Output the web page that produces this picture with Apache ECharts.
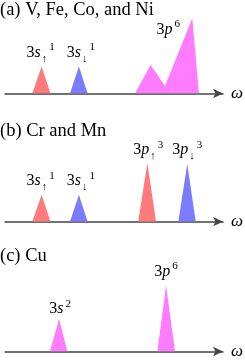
<!DOCTYPE html>
<html><head><meta charset="utf-8">
<script src="https://cdn.jsdelivr.net/npm/echarts@6/dist/echarts.min.js"></script>
<style>html,body{margin:0;padding:0;background:#fff}#c{width:245px;height:360px}</style>
</head><body><div id="c"></div>
<script>
// Panel titles
const panelTitles = ['(a) V, Fe, Co, and Ni', '(b) Cr and Mn', '(c) Cu'];
// Peaks: [omega, intensity] (arbitrary units, omega 0..100)
const a_s_up   = [[12.5, 0], [16.8, 27], [20.9, 0]];
const a_s_down = [[29.8, 0], [33.9, 27], [37.9, 0]];
const a_p      = [[59.6, 0], [66.8, 28.5], [73.4, 7.5], [85.9, 75.2], [89.0, 0]];
const b_s_up   = [[12.5, 0], [16.8, 27], [20.9, 0]];
const b_s_down = [[29.8, 0], [33.9, 27], [37.9, 0]];
const b_p_up   = [[61.1, 0], [65.3, 58.7], [69.3, 0]];
const b_p_down = [[79.5, 0], [83.6, 57.7], [87.5, 0]];
const c_s      = [[20.6, 0], [24.8, 34.3], [28.6, 0]];
const c_p      = [[69.9, 0], [73.9, 69], [78.0, 0]];
// Peak labels
const labels = {
  sUp: '{n|3}{i|s}{sub|↑}{sup|1}',
  sDown: '{n|3}{i|s}{sub|↓}{sup|1}',
  p6: '{n|3}{i|p}{sup|6}',
  pUp: '{n|3}{i|p}{sub|↑}{sup|3}',
  pDown: '{n|3}{i|p}{sub|↓}{sup|3}',
  s2: '{n|3}{i|s}{sup|2}'
};

const RED = '#ff7b7b', BLUE = '#7b7bff', MAG = '#ff7bff';
const FONT = 'Liberation Serif';
const rich = {
  n: {fontSize: 16, fontFamily: FONT, color: '#000'},
  i: {fontSize: 16, fontFamily: FONT, fontStyle: 'italic', color: '#000'},
  sub: {fontSize: 11, fontFamily: FONT, color: '#000', padding: [13, 0, 0, 1]},
  sup: {fontSize: 11, fontFamily: FONT, color: '#000', padding: [0, 0, 10, 2]}
};

function peak(data, color, gi, labelIdx, text, offset) {
  return {
    type: 'line', xAxisIndex: gi, yAxisIndex: gi,
    symbol: 'circle', symbolSize: 2, showSymbol: true,
    itemStyle: {color: 'rgba(0,0,0,0)'},
    lineStyle: {width: 0},
    areaStyle: {color: color, opacity: 1},
    label: {show: false, rich: rich},
    silent: true,
    data: data.map((d, k) => k === labelIdx ? {
      value: d,
      label: {show: true, position: 'inside', offset: offset, formatter: text, rich: rich,
              align: 'center', verticalAlign: 'middle'}
    } : d)
  };
}

const gridTops = [13.5, 141.7, 275];
const grids = gridTops.map(t => ({left: 5, right: 22, top: t, height: 80}));
const xAxes = gridTops.map((t, i) => ({
  type: 'value', gridIndex: i, min: 0, max: 100,
  axisLine: {show: true, lineStyle: {color: '#444', width: 1.5}, symbol: ['none', 'arrow'], symbolSize: [7, 10]},
  axisTick: {show: false}, axisLabel: {show: false}, splitLine: {show: false},
  name: 'ω', nameLocation: 'end', nameGap: 8,
  nameTextStyle: {fontFamily: FONT, fontStyle: 'italic', fontSize: 17, color: '#000', verticalAlign: 'middle'}
}));
const yAxes = gridTops.map((t, i) => ({type: 'value', gridIndex: i, min: 0, max: 80, show: false}));
const titleTops = [1, 121.7, 246.7];
const titles = panelTitles.map((s, i) => ({
  text: s, left: 0, top: titleTops[i], padding: 0,
  textStyle: {fontFamily: FONT, fontSize: 18.5, fontWeight: 'normal', color: '#000'}
}));

const chart = echarts.init(document.getElementById('c'));
chart.setOption({
  animation: false,
  title: titles,
  grid: grids, xAxis: xAxes, yAxis: yAxes,
  series: [
    peak(a_s_up, RED, 0, 1, labels.sUp, [-1, -14]),
    peak(a_s_down, BLUE, 0, 1, labels.sDown, [2, -14]),
    peak(a_p, MAG, 0, 3, labels.p6, [-24, 11]),
    peak(b_s_up, RED, 1, 1, labels.sUp, [-1, -14]),
    peak(b_s_down, BLUE, 1, 1, labels.sDown, [2, -14]),
    peak(b_p_up, RED, 1, 1, labels.pUp, [1, -13]),
    peak(b_p_down, BLUE, 1, 1, labels.pDown, [0, -14]),
    peak(c_s, MAG, 2, 1, labels.s2, [1, -10]),
    peak(c_p, MAG, 2, 1, labels.p6, [0, -14])
  ]
});
</script></body></html>
